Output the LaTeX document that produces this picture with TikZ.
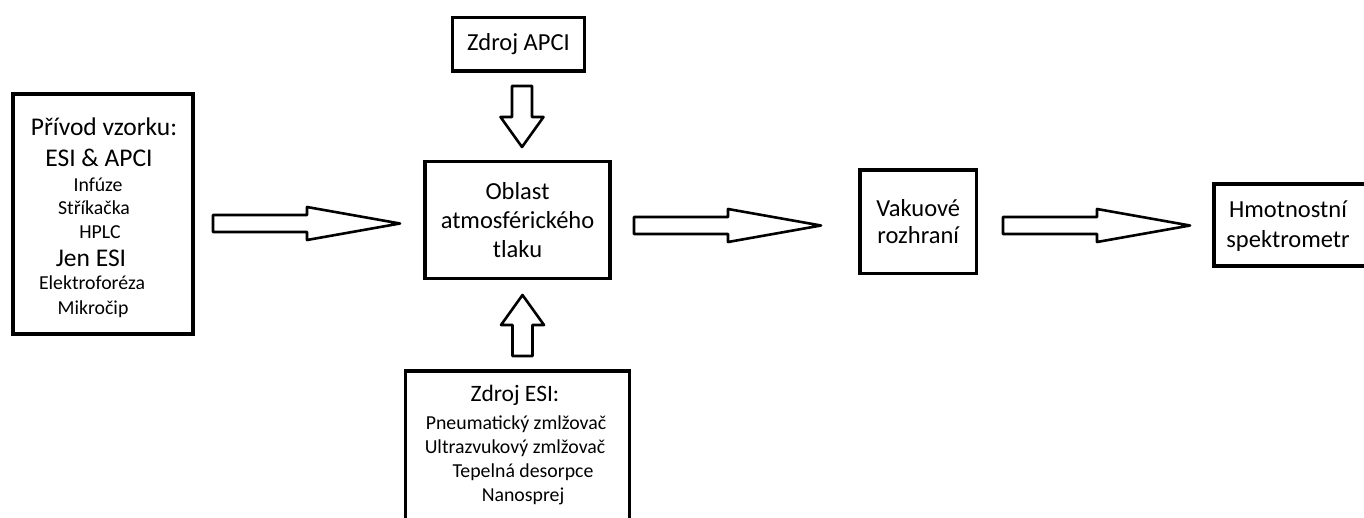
\documentclass[tikz,border=0pt]{standalone}
\usepackage{fontspec}
\setmainfont{Carlito}
\begin{document}
\begin{tikzpicture}[x=1pt,y=-1pt,
  box/.style={draw, line width=3.5pt, rectangle, inner sep=0pt},
  big/.style={font=\fontsize{24.5}{29}\selectfont, inner sep=0pt, align=center},
  bigline/.style={font=\fontsize{25.5}{29}\selectfont, inner sep=0pt, text height=16pt, text depth=0pt},
  midline/.style={font=\fontsize{23.5}{26}\selectfont, inner sep=0pt, text height=15pt, text depth=0pt},
  smallline/.style={font=\fontsize{19.8}{22}\selectfont, inner sep=0pt, text height=12.5pt, text depth=0pt},
  blockarrow/.style={draw, line width=2.6pt, line join=round, fill=white},
  harrow/.pic={\draw[blockarrow] (0,-8.5) -- (94,-8.5) -- (94,-16.5) -- (187,0) -- (94,16.5) -- (94,8.5) -- (0,8.5) -- cycle;},
  varrow/.pic={\draw[blockarrow] (-10,0) -- (10,0) -- (10,31) -- (21.5,31) -- (0,61) -- (-21.5,31) -- (-10,31) -- cycle;}
]
\useasboundingbox (0,0) rectangle (1364,517);
\fill[white] (0,0) rectangle (1364,517);
\clip (0,0) rectangle (1364,517);

% sample inlet box
\node[box, minimum width=180pt, minimum height=240pt] (src) at (103,214) {};
\node[bigline] (s1) at (104,127) {Přívod vzorku:};
\node[bigline] (s2) at (99,158) {ESI \& APCI};
\node[smallline] (s3) at (98,185) {Infúze};
\node[smallline] (s4) at (94,208) {Stříkačka};
\node[smallline] (s5) at (100,232) {HPLC};
\node[bigline] (s6) at (91,258) {Jen ESI};
\node[smallline] (s7) at (92,283) {Elektroforéza};
\node[smallline] (s8) at (93,308) {Mikročip};

% central region
\node[box, big, minimum width=185pt, minimum height=117pt] (atm) at (517.5,220) {Oblast\\atmosférického\\tlaku};

% APCI source
\node[box, big, minimum width=132pt, minimum height=53.5pt] (apci) at (518.5,44.25) {Zdroj APCI};

% ESI source (cut at bottom)
\node[box, minimum width=224pt, minimum height=169pt] (esi) at (517.5,455.5) {};
\node[midline] (e1) at (515,394) {Zdroj ESI:};
\node[smallline] (e2) at (516,423) {Pneumatický zmlžovač};
\node[smallline] (e3) at (515,447) {Ultrazvukový zmlžovač};
\node[smallline] (e4) at (523,471) {Tepelná desorpce};
\node[smallline] (e5) at (523,495) {Nanosprej};

% vacuum interface
\node[box, font=\fontsize{24.5}{27}\selectfont, align=center, minimum width=116.5pt, minimum height=103.5pt] (vak) at (918.25,221.75) {Vakuové\\rozhraní};

% mass spectrometer (cut at right)
\node[box, minimum width=186pt, minimum height=82pt] (ms) at (1307,225) {};
\node[font=\fontsize{24.5}{30}\selectfont, align=center, inner sep=0pt] (mst) at (1288,226) {Hmotnostní\\spektrometr};

% block arrows
\pic (a1) at (213,223.5) {harrow};
\pic (a2) at (634,225.5) {harrow};
\pic (a3) at (1003,225.5) {harrow};
\pic (a4) at (522,86) {varrow};
\pic[rotate=180] (a5) at (522.5,356) {varrow};
\end{tikzpicture}
\end{document}
